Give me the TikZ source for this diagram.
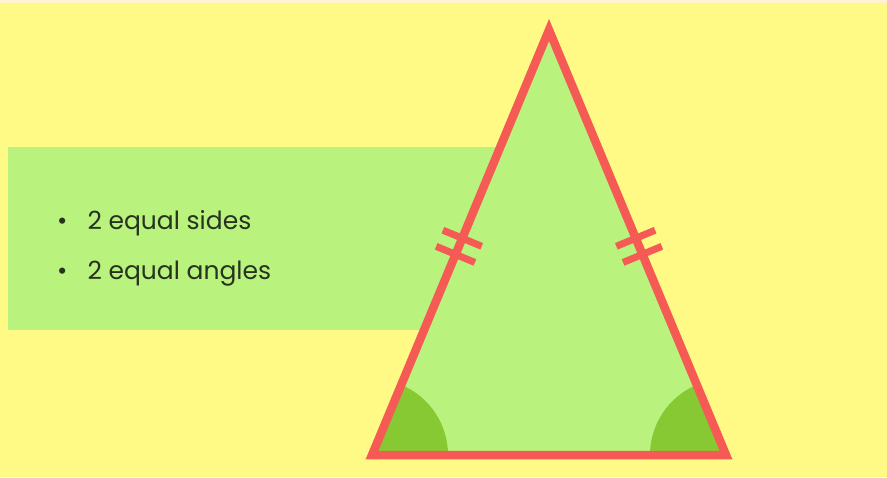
\documentclass[tikz,border=0pt]{standalone}
\usepackage{fontspec}
\setmainfont{Poppins}
\usepackage{tikz}
\usetikzlibrary{calc}
\definecolor{bgyellow}{HTML}{FFF985}
\definecolor{topstrip}{HTML}{FFF4CF}
\definecolor{lightgreen}{HTML}{B9F27D}
\definecolor{anglegreen}{HTML}{87C932}
\definecolor{edgered}{HTML}{F55A55}
\definecolor{textdark}{HTML}{27331F}
\tikzset{
	edge/.style={draw=edgered, line width=8.5pt, line join=miter},
	tickmark/.style={draw=edgered, line width=7pt},
	bullettext/.style={anchor=base west, font=\fontsize{25}{30}\selectfont, text=textdark, inner sep=0pt},
}

\begin{document}
\begin{tikzpicture}[x=1pt, y=1pt]
		% Background
		\fill[bgyellow] (0,0) rectangle (887,-477);
		\fill[topstrip] (0,0) rectangle (887,-3);
		\useasboundingbox (0,0) rectangle (887,-477);

		% Text panel
		\fill[lightgreen] (8,-147) rectangle (520,-330);

		% Triangle corners
		\coordinate (apex) at (549,-30);
		\coordinate (bl) at (372,-455);
		\coordinate (br) at (726,-455);

		\fill[lightgreen] (apex) -- (bl) -- (br) -- cycle;

		% Equal angles
		\fill[anglegreen] (bl) -- ++(76,0) arc[start angle=0, end angle=67.4, radius=76] -- cycle;
		\fill[anglegreen] (br) -- ++(-76,0) arc[start angle=180, end angle=112.6, radius=76] -- cycle;

		\draw[edge] (apex) -- (bl) -- (br) -- cycle;

		% Equal sides
		\foreach \f in {0.49, 0.528} {
			\coordinate (lm) at ($(apex)!\f!(bl)$);
			\coordinate (rm) at ($(apex)!\f!(br)$);
			\draw[tickmark] ($(lm)!21pt!90:(apex)$) -- ($(lm)!21pt!-90:(apex)$);
			\draw[tickmark] ($(rm)!21pt!90:(apex)$) -- ($(rm)!21pt!-90:(apex)$);
		}

		% Bullet list
		\node[bullettext] (sides) at (57,-229) {\textbullet\hspace{20pt}2 equal sides};
		\node[bullettext] (angles) at (57,-279) {\textbullet\hspace{20pt}2 equal angles};
	\end{tikzpicture}
\end{document}
